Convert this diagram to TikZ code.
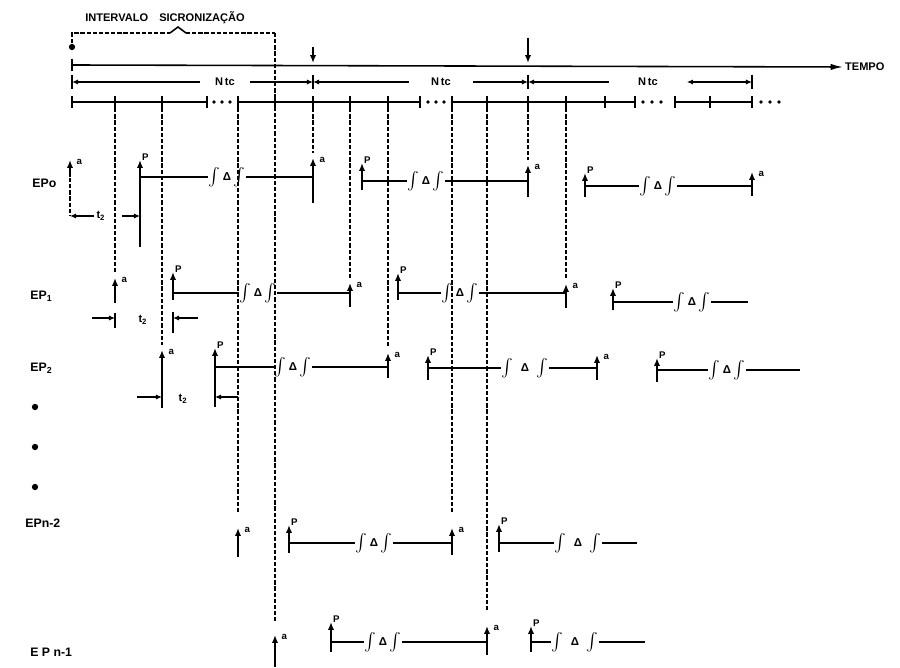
\documentclass[tikz,border=0pt]{standalone}
\usepackage{fontspec}
\setmainfont{Liberation Sans}
\usetikzlibrary{arrows.meta, positioning}
\tikzset{
  % Timing diagram styles
  ln/.style={line width=0.9pt},
  sync/.style={line width=1.3pt, dash pattern=on 2.4pt off 1.1pt},
  evt/.style={-{Latex[length=4.5pt,width=3.6pt]}, line width=1pt},
  dim/.style={-{Latex[length=3.5pt,width=3pt]}, line width=0.8pt},
  dimboth/.style={{Latex[length=3.5pt,width=3pt]}-{Latex[length=3.5pt,width=3pt]}, line width=0.8pt},
  lbl/.style={font=\fontsize{5.5}{6}\selectfont\bfseries, inner sep=0.5pt},
  rowname/.style={font=\fontsize{7}{8}\selectfont\bfseries, anchor=west, inner sep=0pt},
  caption/.style={font=\fontsize{6.3}{7}\selectfont\bfseries, inner sep=1pt},
  gapmark/.style={font=\footnotesize, inner sep=0.2pt},
}
% event arrows: name, x, shaft bottom, tip
\newcommand{\evA}[4]{\draw[evt] (#2,#3) -- (#2,#4) coordinate (#1);
  \node[lbl, right=3pt of #1, yshift=-1pt] {a};}
\newcommand{\evP}[4]{\draw[evt] (#2,#3) -- (#2,#4) coordinate (#1);
  \node[lbl, above right=-1pt and 0.5pt of #1] {P};}
\newcommand{\dlt}{{\fontsize{6.5}{7}\selectfont\bfseries Δ}}
\newcommand{\dbrk}{$\int$\,\dlt\,$\int$}
\newcommand{\dbrkw}{$\int$\;\;\dlt\;\;$\int$}
\begin{document}
\begin{tikzpicture}[x=0.02cm, y=-0.02cm]
  \useasboundingbox (0,0) rectangle (900,668);

  % Sync interval bracket
  \node[caption] (sync) at (165,18) {INTERVALO\quad SICRONIZAÇÃO};
  \fill (72,47) circle (1.8pt);
  \coordinate (b0) at (72,33);
  \coordinate (b1) at (275,33);
  \coordinate (bl) at (170,33);
  \coordinate (br) at (186,33);
  \draw[sync] (72,43) -- (b0) -- (bl);
  \draw[sync] (br) -- (b1);
  \draw[ln] (bl) -- (178,27) -- (br);

  % Time axis
  \coordinate (t0) at (72,65);
  \node[caption, anchor=west] (tempo) at (843,67) {TEMPO};
  \draw[ln, -{Latex[length=7pt,width=3.6pt]}] (t0) -- (tempo.west);
  \draw[ln] (72,59) -- (72,71);
  \draw[evt] (313,47) -- (313,63);
  \draw[evt] (528,38) -- (528,63);

  % Ntc periods
  \coordinate (m0) at (72,82);
  \coordinate (m1) at (313,82);
  \coordinate (m2) at (528,82);
  \coordinate (m3) at (752,82);
  \foreach \x in {72,313,528,752} \draw[ln] (\x,75) -- (\x,89);
  \node[caption, minimum width=1cm] (n1) at (225,82) {N\,tc};
  \node[caption, minimum width=1.26cm] (n2) at (441,82) {N\,tc};
  \node[caption, minimum width=1.54cm] (n3) at (648,82) {N\,tc};
  \draw[dim] (n1) -- (m0);
  \draw[dim] (n1) -- (m1);
  \draw[dim] (n2) -- (m1);
  \draw[dim] (n2) -- (m2);
  \draw[dim] (n3) -- (m2);
  \draw[dimboth] (n3) -- (m3);

  % Tick row
  \draw[ln] (72,102) -- (207,102);
  \draw[ln] (238,102) -- (420,102);
  \draw[ln] (452,102) -- (635,102);
  \draw[ln] (675,102) -- (752,102);
  \foreach \x in {72,115,162,207,238,275,313,350,388,420,452,487,528,566,605,635,675,710,752}
    \draw[ln] (\x,96) -- (\x,108);
  \foreach \x in {214,222,230,428,436,444,643,652,661,761,770,779}
    \fill (\x,102) circle (1.1pt);
  \foreach \x in {115,162,238,313,350,388,452,487,528,566}
    \coordinate (k\x) at (\x,102);

  % EPo
  \node[rowname] (ep0) at (32,183) {EPo};
  \evA{a00}{70}{177}{160}
  \evP{p00}{140}{247}{160}
  \evA{a01}{313}{203}{158}
  \evP{p01}{362}{190}{163}
  \evA{a02}{528}{197}{165}
  \evP{p02}{585}{197}{173}
  \evA{a03}{752}{196}{172}
  \node[gapmark] (g00) at (227,177) {\dbrk};
  \node[gapmark] (g01) at (426,181) {\dbrk};
  \node[gapmark] (g02) at (658,186) {\dbrk};
  \draw[ln] (p00 |- g00) -- (g00) -- (a01 |- g00);
  \draw[ln] (p01 |- g01) -- (g01) -- (a02 |- g01);
  \draw[ln] (p02 |- g02) -- (g02) -- (a03 |- g02);
  \draw[sync] (70,178) -- (70,216) coordinate (q00);
  \node[caption] (tz0) at (101,216) {t\textsubscript{2}};
  \coordinate (u0r) at (122,216);
  \draw[dim] (tz0) -- (q00);
  \draw[dim] (u0r) -- (p00 |- u0r);

  % EP1
  \node[rowname] (ep1) at (30,296) {EP\textsubscript{1}};
  \evA{a10}{115}{303}{278}
  \evP{p10}{173}{300}{272}
  \evA{a11}{350}{307}{283}
  \evP{p11}{398}{300}{273}
  \evA{a12}{566}{308}{284}
  \evP{p12}{613}{310}{288}
  \node[gapmark] (g10) at (258,293) {\dbrk};
  \node[gapmark] (g11) at (460,293) {\dbrk};
  \node[gapmark] (g12) at (692,302) {\dbrk};
  \coordinate (o12) at (748,302);
  \draw[ln] (p10 |- g10) -- (g10) -- (a11 |- g10);
  \draw[ln] (p11 |- g11) -- (g11) -- (a12 |- g11);
  \draw[ln] (p12 |- g12) -- (g12) -- (o12);
  \draw[ln] (115,313) -- (115,328);
  \draw[ln] (173,312) -- (173,333);
  \node[caption] (tz1) at (143,320) {t\textsubscript{2}};
  \coordinate (u1l) at (92,318);
  \coordinate (u1r) at (198,318);
  \draw[dim] (u1l) -- (a10 |- u1l);
  \draw[dim] (u1r) -- (p10 |- u1r);

  % EP2
  \node[rowname] (ep2) at (30,368) {EP\textsubscript{2}};
  \evA{a20}{162}{408}{350}
  \evP{p20}{215}{407}{348}
  \evA{a21}{388}{378}{353}
  \evP{p21}{428}{380}{355}
  \evA{a22}{597}{380}{355}
  \evP{p22}{657}{382}{358}
  \node[gapmark] (g20) at (293,367) {\dbrk};
  \node[gapmark] (g21) at (525,368) {\dbrkw};
  \node[gapmark] (g22) at (727,370) {\dbrk};
  \coordinate (o22) at (800,370);
  \draw[ln] (p20 |- g20) -- (g20) -- (a21 |- g20);
  \draw[ln] (p21 |- g21) -- (g21) -- (a22 |- g21);
  \draw[ln] (p22 |- g22) -- (g22) -- (o22);
  \node[caption] (tz2) at (183,399) {t\textsubscript{2}};
  \coordinate (u2l) at (137,397);
  \coordinate (u2r) at (238,397);
  \draw[dim] (u2l) -- (a20 |- u2l);
  \draw[dim] (u2r) -- (p20 |- u2r);

  % continuation dots
  \foreach \y in {407,447,487} \fill (35,\y) circle (1.8pt);

  % EPn-2
  \node[rowname] (ep3) at (25,523) {EPn-2};
  \evA{a30}{238}{557}{528}
  \evP{p30}{289}{553}{525}
  \evA{a31}{452}{555}{528}
  \evP{p31}{499}{552}{524}
  \node[gapmark] (g30) at (374,543) {\dbrk};
  \node[gapmark] (g31) at (578,543) {\dbrkw};
  \coordinate (o31) at (637,543);
  \draw[ln] (p30 |- g30) -- (g30) -- (a31 |- g30);
  \draw[ln] (p31 |- g31) -- (g31) -- (o31);

  % EPn-1
  \node[rowname] (ep4) at (30,652) {E P n-1};
  \evA{a40}{275}{667}{635}
  \evP{p40}{331}{652}{622}
  \evA{a41}{487}{655}{626}
  \evP{p41}{531}{652}{626}
  \node[gapmark] (g40) at (383,642) {\dbrk};
  \node[gapmark] (g41) at (575,642) {\dbrkw};
  \coordinate (o41) at (645,642);
  \draw[ln] (p40 |- g40) -- (g40) -- (a41 |- g40);
  \draw[ln] (p41 |- g41) -- (g41) -- (o41);

  % Sync lines from ticks to arrivals
  \draw[sync] (b1) -- ([yshift=8pt]a40);
  \foreach \k/\e in {115/a10,162/a20,313/a01,350/a11,388/a21,528/a02,566/a12}
    \draw[sync] (k\k) -- ([yshift=3pt]\e);
  \foreach \k/\e in {238/a30,452/a31,487/a41}
    \draw[sync] (k\k) -- ([yshift=8pt]\e);
\end{tikzpicture}
\end{document}
